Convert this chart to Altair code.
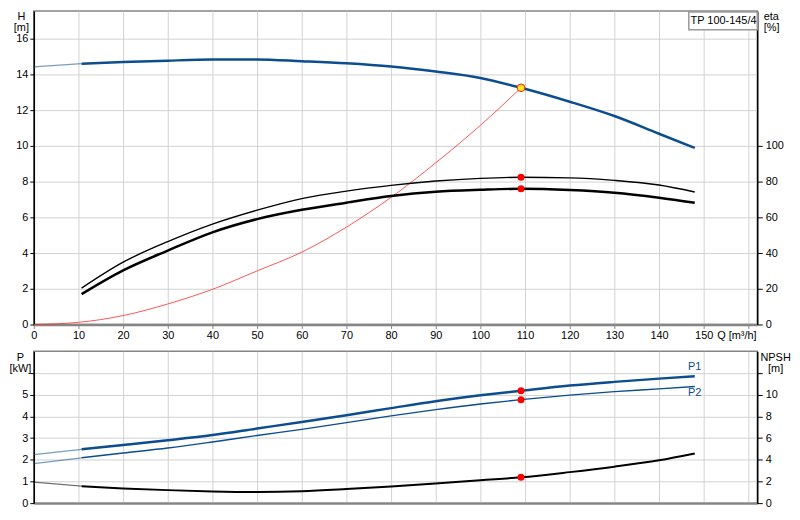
import altair as alt
import pandas as pd

# pump curve data
MODEL = "TP 100-145/4"

Q = [0, 10.7, 20, 30, 40, 50, 60, 70, 80, 90, 100, 109.1, 120, 130, 140, 148]
H_PUMP = [14.42, 14.6, 14.69, 14.77, 14.83, 14.84, 14.74, 14.62, 14.44, 14.16, 13.8, 13.25, 12.47, 11.67, 10.68, 9.89]
P1 = [2.24, 2.48, 2.68, 2.9, 3.14, 3.44, 3.74, 4.05, 4.38, 4.7, 4.97, 5.18, 5.42, 5.59, 5.74, 5.85]
P2 = [1.82, 2.09, 2.31, 2.54, 2.82, 3.12, 3.4, 3.71, 4.02, 4.31, 4.57, 4.77, 4.98, 5.14, 5.27, 5.38]
NPSH = [1.94, 1.56, 1.36, 1.2, 1.08, 1.03, 1.1, 1.3, 1.54, 1.82, 2.12, 2.38, 2.86, 3.36, 3.95, 4.58]

Q_ETA = [10.7, 20, 30, 40, 50, 60, 70, 80, 90, 100, 109.1, 120, 130, 140, 148]
ETA_A = [20.4, 34.9, 46.4, 56.2, 64.0, 70.5, 74.7, 77.9, 80.3, 81.8, 82.4, 82.1, 80.7, 78.1, 74.2]
ETA_B = [17.0, 30.3, 41.4, 51.6, 59.0, 64.2, 68.2, 71.9, 74.3, 75.4, 76.0, 75.3, 73.8, 71.0, 68.2]

Q_SYS = [0, 10, 20, 30, 40, 50, 60, 70, 80, 90, 100, 109.1]
H_SYS = [0, 0.12, 0.5, 1.15, 1.97, 3.0, 4.05, 5.45, 7.12, 9.05, 11.15, 13.25]

Q_DUTY = [109.1]
H_DUTY = [13.25]
ETA_DUTY = [82.4, 76.0]
P_DUTY = [5.18, 4.77]
NPSH_DUTY = [2.38]

P_LABELS = ["P1", "P2"]
Q_TICKS = list(range(0, 170, 10))

BLUE = "#0b4d8f"
RED = "#ff2a2a"
GRID = "#d2d2d2"
GRAY = "#858585"
FONT = "Liberation Sans"

W, H1, H2 = 729, 316, 153

q_scale = alt.Scale(domain=[0, 162], nice=False, zero=False)
h_scale = alt.Scale(domain=[0, 17.556], nice=False)
eta_scale = alt.Scale(domain=[0, 175.56], nice=False)
p_scale = alt.Scale(domain=[0, 7], nice=False)
npsh_scale = alt.Scale(domain=[0, 14], nice=False)

x_top = alt.Axis(values=Q_TICKS, title=None, grid=True, gridColor=GRID,
                 labelExpr="datum.value == 160 ? 'Q [m³/h]' : datum.label",
                 labelOffset={"condition": {"test": "datum.value == 160", "value": -12}, "value": 0},
                 labelFlush=False, labelOverlap=False, labelPadding=1,
                 domainColor=GRAY, domainWidth=2.5, tickColor=GRAY, tickSize=4)
x_bot = alt.Axis(values=Q_TICKS, title=None, grid=True, gridColor=GRID,
                 labels=False, ticks=False, domainColor=GRAY, domainWidth=2.5)

h_axis = alt.Axis(values=list(range(0, 18, 2)), title=["H", "[m]"], titleAngle=0,
                  titleAlign="center", titleBaseline="top", titleX=-13, titleY=0,
                  grid=True, gridColor=GRID, tickSize=4, labelPadding=2)
eta_axis = alt.Axis(orient="right", values=list(range(0, 120, 20)), title=["eta", "[%]"],
                    titleAngle=0, titleAlign="left", titleBaseline="top", titleX=6, titleY=0,
                    grid=False, tickSize=5, labelPadding=3)
p_axis = alt.Axis(values=list(range(0, 7)), title=["P", "[kW]"], titleAngle=0,
                  labelExpr="datum.value == 6 ? '' : datum.label",
                  titleAlign="center", titleBaseline="top", titleX=-14, titleY=0,
                  grid=True, gridColor=GRID, tickSize=4, labelPadding=2)
npsh_axis = alt.Axis(orient="right", values=list(range(0, 14, 2)), title=["NPSH", "[m]"],
                     labelExpr="datum.value == 12 ? '' : datum.label",
                     titleAngle=0, titleAlign="center", titleBaseline="top", titleX=18, titleY=0,
                     grid=False, tickSize=5, labelPadding=3)

df_main = pd.DataFrame({"Q": Q, "H": H_PUMP, "P1": P1, "P2": P2, "NPSH": NPSH})
df_eta = pd.DataFrame({"Q": Q_ETA, "A": ETA_A, "B": ETA_B})
df_sys = pd.DataFrame({"Q": Q_SYS, "H": H_SYS})
df_duty = pd.DataFrame({"Q": Q_DUTY, "H": H_DUTY, "NPSH": NPSH_DUTY})
df_duty_eta = pd.DataFrame({"Q": Q_DUTY * 2, "eta": ETA_DUTY})
df_duty_p = pd.DataFrame({"Q": Q_DUTY * 2, "P": P_DUTY})
df_lab = pd.DataFrame({"Q": [Q[-1]] * 2, "P": [P1[-1], P2[-1]], "label": P_LABELS})


def curve(df, field, scale, axis, xaxis, color, width):
    base = alt.Chart(df).encode(
        x=alt.X("Q:Q", scale=q_scale, axis=xaxis),
        y=alt.Y(f"{field}:Q", scale=scale, axis=axis),
    )
    ext = base.transform_filter("datum.Q <= 10.7").mark_line(
        color=color, strokeWidth=1.2, opacity=0.55, interpolate="monotone")
    main = base.transform_filter("datum.Q >= 10.7").mark_line(
        color=color, strokeWidth=width, interpolate="monotone")
    return ext, main


def dots(df, field, scale, axis, xaxis):
    return alt.Chart(df).mark_circle(color="red", size=50, opacity=1).encode(
        x=alt.X("Q:Q", scale=q_scale, axis=xaxis),
        y=alt.Y(f"{field}:Q", scale=scale, axis=axis),
    )


# ---- top panel: H and eta
h_ext, h_main = curve(df_main, "H", h_scale, h_axis, x_top, BLUE, 2.5)
sys_line = alt.Chart(df_sys).mark_line(
    color=RED, strokeWidth=1, opacity=0.8, interpolate="monotone").encode(
    x=alt.X("Q:Q", scale=q_scale, axis=x_top),
    y=alt.Y("H:Q", scale=h_scale, axis=h_axis),
)
duty_h = alt.Chart(df_duty).mark_point(
    shape="circle", filled=True, fill="#ffe81a", stroke="#ff2020", strokeWidth=1,
    size=60, opacity=1).encode(
    x=alt.X("Q:Q", scale=q_scale, axis=x_top),
    y=alt.Y("H:Q", scale=h_scale, axis=h_axis),
)
box_df = pd.DataFrame({"label": [MODEL]})
box = alt.Chart(box_df).mark_rect(fill="white", stroke="#9a9a9a", strokeWidth=1.5).encode(
    x=alt.value(W - 69), x2=alt.value(W), y=alt.value(1), y2=alt.value(19))
box_text = alt.Chart(box_df).mark_text(font=FONT, fontSize=11, color="black").encode(
    x=alt.value(W - 34), y=alt.value(10), text="label:N")

eta_a = alt.Chart(df_eta).mark_line(color="black", strokeWidth=1.4, interpolate="monotone").encode(
    x=alt.X("Q:Q", scale=q_scale, axis=x_top),
    y=alt.Y("A:Q", scale=eta_scale, axis=eta_axis),
)
eta_b = alt.Chart(df_eta).mark_line(color="black", strokeWidth=2.5, interpolate="monotone").encode(
    x=alt.X("Q:Q", scale=q_scale, axis=x_top),
    y=alt.Y("B:Q", scale=eta_scale, axis=eta_axis),
)
eta_dots = dots(df_duty_eta, "eta", eta_scale, eta_axis, x_top)

h_group = alt.layer(h_ext, h_main, sys_line, duty_h, box, box_text)
eta_group = alt.layer(eta_a, eta_b, eta_dots)
top = alt.layer(h_group, eta_group).resolve_scale(y="independent").properties(width=W, height=H1)

# ---- bottom panel: P and NPSH
p1_ext, p1_main = curve(df_main, "P1", p_scale, p_axis, x_bot, BLUE, 2.5)
p2_ext, p2_main = curve(df_main, "P2", p_scale, p_axis, x_bot, BLUE, 1.4)
p_dots = dots(df_duty_p, "P", p_scale, p_axis, x_bot)
p_text = alt.Chart(df_lab).encode(
    x=alt.X("Q:Q", scale=q_scale, axis=x_bot),
    y=alt.Y("P:Q", scale=p_scale, axis=p_axis),
    text="label:N",
)
p1_text = p_text.transform_filter("datum.label == 'P1'").mark_text(
    font=FONT, fontSize=11, color=BLUE, dy=-9)
p2_text = p_text.transform_filter("datum.label == 'P2'").mark_text(
    font=FONT, fontSize=11, color=BLUE, dy=7)
n_ext, n_main = curve(df_main, "NPSH", npsh_scale, npsh_axis, x_bot, "black", 2)
n_dots = dots(df_duty, "NPSH", npsh_scale, npsh_axis, x_bot)

p_group = alt.layer(p1_ext, p1_main, p2_ext, p2_main, p_dots, p1_text, p2_text)
n_group = alt.layer(n_ext, n_main, n_dots)
bottom = alt.layer(p_group, n_group).resolve_scale(y="independent").properties(width=W, height=H2)

chart = alt.vconcat(top, bottom, spacing=9).properties(
    padding=0, background="white"
).configure_view(
    stroke=GRAY, strokeWidth=1.5
).configure_axis(
    labelFont=FONT, titleFont=FONT, labelFontSize=11, titleFontSize=11,
    titleFontWeight="normal", labelColor="black", titleColor="black",
    domainColor="black", domainWidth=1.5, tickColor="black", titleLineHeight=11,
)

chart.save("out.html", embed_options={"renderer": "svg", "actions": False})
